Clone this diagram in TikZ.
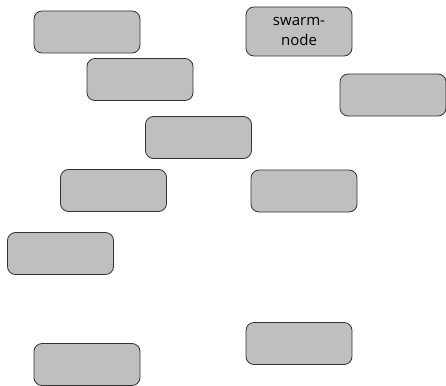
\documentclass[tikz,border=0pt]{standalone}
\usepackage{fontspec}
\setmainfont{Open Sans}
\begin{document}
\begin{tikzpicture}[x=1pt,y=-1pt,
  box/.style={draw=black!80, line width=0.8pt, fill=black!25, rounded corners=8pt,
    minimum width=106pt, minimum height=42pt, inner sep=0pt, align=center,
    font=\fontsize{15}{20}\selectfont}]
\useasboundingbox (0,0) rectangle (446,385);
\node[box] (a) at (87,32) {};
\node[box, minimum height=49pt] (b) at (299,31.5) {swarm-\\node};
\node[box] (c) at (140,79.5) {};
\node[box] (d) at (393,95) {};
\node[box] (e) at (198.5,137.5) {};
\node[box] (f) at (113.5,190.5) {};
\node[box] (g) at (304,191) {};
\node[box] (h) at (60.5,253.5) {};
\node[box] (i) at (299,343.5) {};
\node[box] (j) at (87,364.5) {};
\end{tikzpicture}
\end{document}
